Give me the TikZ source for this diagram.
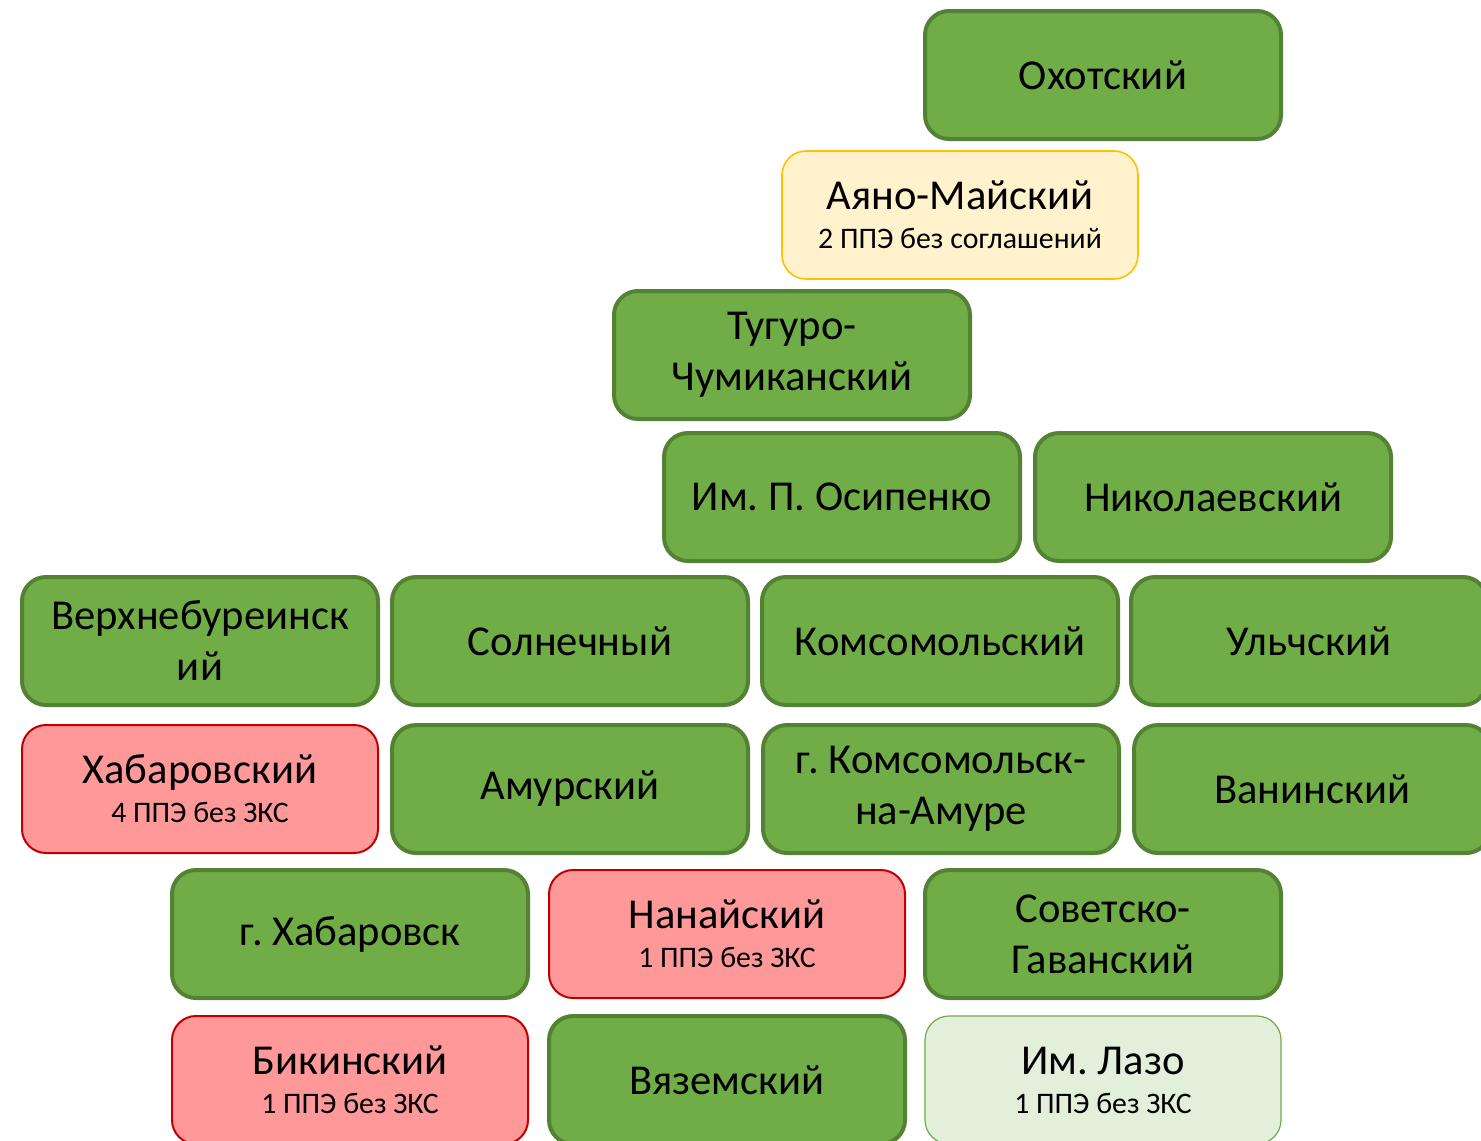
\documentclass[tikz,border=0pt]{standalone}
\usepackage{fontspec}
\setmainfont{Carlito}
\frenchspacing

\definecolor{okfill}{HTML}{70AD47}
\definecolor{okline}{HTML}{548235}
\definecolor{warnfill}{HTML}{FFF2CC}
\definecolor{warnline}{HTML}{FFC000}
\definecolor{badfill}{HTML}{FF9999}
\definecolor{badline}{HTML}{C00000}
\definecolor{lightfill}{HTML}{E2EFDA}
\definecolor{lightline}{HTML}{70AD47}

\newcommand{\subline}[1]{{\fontsize{14.9}{17}\selectfont #1}}

\begin{document}
\begin{tikzpicture}[x=0.5pt, y=-0.5pt,
  box/.style={rectangle, rounded corners=12pt, align=center,
      minimum width=178pt, minimum height=64pt, inner sep=0pt,
      font=\fontsize{21.3}{25.5}\selectfont},
  okbox/.style={box, draw=okline, fill=okfill, line width=2pt},
  warnbox/.style={box, draw=warnline, fill=warnfill, line width=0.8pt},
  badbox/.style={box, draw=badline, fill=badfill, line width=1pt},
  lightbox/.style={box, draw=lightline, fill=lightfill, line width=0.6pt}]

\useasboundingbox (0,0) rectangle (1481,1140);
\clip (0,0) rectangle (1481,1140);

% top column
\node[okbox] (okhot) at (1103, 75) {Охотский};
\node[warnbox] (ayan) at (960, 215) {Аяно-Майский\\[-6pt]\subline{2 ППЭ без соглашений}};
\node[okbox] (tugur) at (792, 355) {Тугуро-\\Чумиканский};
\node[okbox] (osip) at (842, 497) {Им. П. Осипенко};
\node[okbox] (nikol) at (1213, 497) {Николаевский};

% row five
\node[okbox] (verkh) at (200, 641) {Верхнебуреинск\\ий};
\node[okbox] (soln) at (570, 641) {Солнечный};
\node[okbox] (komso) at (940, 641) {Комсомольский};
\node[okbox] (ulch) at (1309, 641) {Ульчский};

% row six
\node[badbox] (khabr) at (200, 789) {Хабаровский\\[-6pt]\subline{4 ППЭ без ЗКС}};
\node[okbox] (amur) at (570, 789) {Амурский};
\node[okbox] (kmsk) at (941, 789) {г. Комсомольск-\\на-Амуре};
\node[okbox] (vanin) at (1312, 789) {Ванинский};

% row seven
\node[okbox] (khabc) at (350, 934) {г. Хабаровск};
\node[badbox] (nanai) at (727, 934) {Нанайский\\[-6pt]\subline{1 ППЭ без ЗКС}};
\node[okbox] (sovg) at (1103, 934) {Советско-\\Гаванский};

% row eight
\node[badbox] (bikin) at (350, 1080) {Бикинский\\[-6pt]\subline{1 ППЭ без ЗКС}};
\node[okbox] (vyaz) at (727, 1080) {Вяземский};
\node[lightbox] (lazo) at (1103, 1080) {Им. Лазо\\[-6pt]\subline{1 ППЭ без ЗКС}};

\end{tikzpicture}
\end{document}
